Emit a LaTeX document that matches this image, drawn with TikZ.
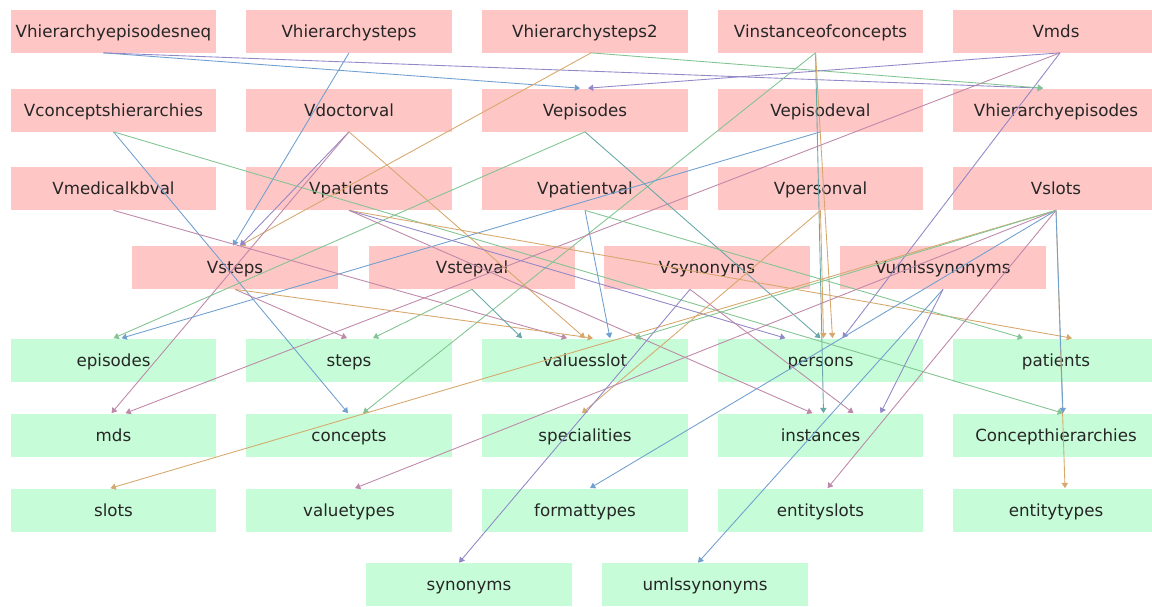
\documentclass[tikz,border=0pt]{standalone}
\usepackage{fontspec}
\setmainfont{DejaVu Sans}
\usetikzlibrary{arrows.meta}

\definecolor{viewpink}{RGB}{255,198,198}
\definecolor{tablegreen}{RGB}{198,253,216}
\definecolor{depPurple}{RGB}{146,136,200}
\definecolor{depGreen}{RGB}{130,196,146}
\definecolor{depOrange}{RGB}{214,168,110}
\definecolor{depBlue}{RGB}{112,160,208}
\definecolor{depMauve}{RGB}{190,136,168}
\definecolor{depTeal}{RGB}{104,168,168}

\begin{document}
\begin{tikzpicture}[x=0.02cm,y=-0.02cm,
        box/.style={rectangle,minimum width=4.12cm,minimum height=0.86cm,inner sep=1pt,
                    text height=6.9pt,text depth=0pt,
                    font=\fontsize{9.5}{11}\selectfont,text=black!85},
        view/.style={box,fill=viewpink},
        tbl/.style={box,fill=tablegreen},
        dep/.style={draw=#1,line width=0.5pt,-{Triangle[length=3pt,width=3.6pt]}}]
        \useasboundingbox (0,0) rectangle (1152,606);

        % views
        \node[view] (Vhierarchyepisodesneq) at (113.5,31) {Vhierarchyepisodesneq};
        \node[view] (Vhierarchysteps) at (349,31) {Vhierarchysteps};
        \node[view] (Vhierarchysteps2) at (585,31) {Vhierarchysteps2};
        \node[view] (Vinstanceofconcepts) at (820.5,31) {Vinstanceofconcepts};
        \node[view] (Vmds) at (1056,31) {Vmds};

        \node[view] (Vconceptshierarchies) at (113.5,110) {Vconceptshierarchies};
        \node[view] (Vdoctorval) at (349,110) {Vdoctorval};
        \node[view] (Vepisodes) at (585,110) {Vepisodes};
        \node[view] (Vepisodeval) at (820.5,110) {Vepisodeval};
        \node[view] (Vhierarchyepisodes) at (1056,110) {Vhierarchyepisodes};

        \node[view] (Vmedicalkbval) at (113.5,188.5) {Vmedicalkbval};
        \node[view] (Vpatients) at (349,188.5) {Vpatients};
        \node[view] (Vpatientval) at (585,188.5) {Vpatientval};
        \node[view] (Vpersonval) at (820.5,188.5) {Vpersonval};
        \node[view] (Vslots) at (1056,188.5) {Vslots};

        \node[view] (Vsteps) at (235,267.5) {Vsteps};
        \node[view] (Vstepval) at (472,267.5) {Vstepval};
        \node[view] (Vsynonyms) at (707,267.5) {Vsynonyms};
        \node[view] (Vumlssynonyms) at (943,267.5) {Vumlssynonyms};

        % tables
        \node[tbl] (episodes) at (113.5,360) {episodes};
        \node[tbl] (steps) at (349,360) {steps};
        \node[tbl] (valuesslot) at (585,360) {valuesslot};
        \node[tbl] (persons) at (820.5,360) {persons};
        \node[tbl] (patients) at (1056,360) {patients};

        \node[tbl] (mds) at (113.5,435) {mds};
        \node[tbl] (concepts) at (349,435) {concepts};
        \node[tbl] (specialities) at (585,435) {specialities};
        \node[tbl] (instances) at (820.5,435) {instances};
        \node[tbl] (Concepthierarchies) at (1056,435) {Concepthierarchies};

        \node[tbl] (slots) at (113.5,510) {slots};
        \node[tbl] (valuetypes) at (349,510) {valuetypes};
        \node[tbl] (formattypes) at (585,510) {formattypes};
        \node[tbl] (entityslots) at (820.5,510) {entityslots};
        \node[tbl] (entitytypes) at (1056,510) {entitytypes};

        \node[tbl] (synonyms) at (469,584.5) {synonyms};
        \node[tbl] (umlssynonyms) at (705,584.5) {umlssynonyms};

        % dependencies
        \draw[dep=depBlue] ([xshift=-2mm]Vhierarchyepisodesneq.south) -- ([xshift=-1mm]Vepisodes.north);
        \draw[dep=depPurple] ([xshift=-2mm]Vhierarchyepisodesneq.south) -- ([xshift=-2.6mm]Vhierarchyepisodes.north);
        \draw[dep=depGreen] ([xshift=1.2mm]Vhierarchysteps2.south) -- ([xshift=-2.6mm]Vhierarchyepisodes.north);
        \draw[dep=depPurple] ([xshift=0.8mm]Vmds.south) -- ([xshift=0.6mm]Vepisodes.north);
        \draw[dep=depBlue] (Vhierarchysteps.south) -- ([xshift=-0.4mm]Vsteps.north);
        \draw[dep=depOrange] ([xshift=1.2mm]Vhierarchysteps2.south) -- ([xshift=1mm]Vsteps.north);
        \draw[dep=depPurple] (Vdoctorval.south) -- ([xshift=1mm]Vsteps.north);

        \draw[dep=depTeal] ([xshift=-1mm]Vinstanceofconcepts.south) -- ([xshift=0.6mm]instances.north);
        \draw[dep=depOrange] ([xshift=-1mm]Vinstanceofconcepts.south) -- ([xshift=2.4mm]persons.north);
        \draw[dep=depGreen] ([xshift=-1mm]Vinstanceofconcepts.south) -- ([xshift=2.8mm]concepts.north);
        \draw[dep=depMauve] ([xshift=0.8mm]Vmds.south) -- ([xshift=2.4mm]mds.north);
        \draw[dep=depPurple] ([xshift=0.8mm]Vmds.south) -- ([xshift=4.4mm]persons.north);

        \draw[dep=depBlue] (Vconceptshierarchies.south) -- ([xshift=-0.2mm]concepts.north);
        \draw[dep=depGreen] (Vconceptshierarchies.south) -- ([xshift=1.4mm]Concepthierarchies.north);
        \draw[dep=depMauve] (Vdoctorval.south) -- ([xshift=-0.4mm]mds.north);
        \draw[dep=depOrange] (Vdoctorval.south) -- (valuesslot.north);
        \draw[dep=depGreen] (Vepisodes.south) -- (episodes.north);
        \draw[dep=depTeal] (Vepisodes.south) -- (persons.north);
        \draw[dep=depBlue] (Vepisodeval.south) -- ([xshift=1.6mm]episodes.north);

        \draw[dep=depMauve] (Vmedicalkbval.south) -- ([xshift=-3.6mm]valuesslot.north);
        \draw[dep=depOrange] (Vpatients.south) -- ([xshift=3.2mm]patients.north);
        \draw[dep=depPurple] (Vpatients.south) -- ([xshift=-7mm]persons.north);
        \draw[dep=depMauve] (Vpatients.south) -- ([xshift=-1.6mm]instances.north);
        \draw[dep=depBlue] (Vpatientval.south) -- ([xshift=5mm]valuesslot.north);
        \draw[dep=depGreen] (Vpatientval.south) -- ([xshift=-6.6mm]patients.north);
        \draw[dep=depOrange] (Vpersonval.south) -- ([xshift=0.6mm]persons.north);
        \draw[dep=depOrange] (Vpersonval.south) -- ([xshift=-0.6mm]specialities.north);

        \draw[dep=depOrange] (Vslots.south) -- ([xshift=-0.6mm]slots.north);
        \draw[dep=depMauve] (Vslots.south) -- ([xshift=1.2mm]valuetypes.north);
        \draw[dep=depBlue] (Vslots.south) -- ([xshift=1mm]formattypes.north);
        \draw[dep=depMauve] (Vslots.south) -- ([xshift=1.4mm]entityslots.north);
        \draw[dep=depOrange] (Vslots.south) -- ([xshift=1.8mm]entitytypes.north);
        \draw[dep=depBlue] (Vslots.south) -- ([xshift=1.4mm]Concepthierarchies.north);
        \draw[dep=depGreen] (Vslots.south) -- ([xshift=10mm]valuesslot.north);

        \draw[dep=depMauve] (Vsteps.south) -- ([xshift=-0.4mm]steps.north);
        \draw[dep=depOrange] (Vsteps.south) -- ([xshift=1.6mm]valuesslot.north);
        \draw[dep=depGreen] (Vstepval.south) -- ([xshift=4.8mm]steps.north);
        \draw[dep=depTeal] (Vstepval.south) -- ([xshift=-12.6mm]valuesslot.north);
        \draw[dep=depPurple] ([xshift=-3.4mm]Vsynonyms.south) -- ([xshift=-2mm]synonyms.north);
        \draw[dep=depMauve] ([xshift=-3.4mm]Vsynonyms.south) -- ([xshift=6.6mm]instances.north);
        \draw[dep=depBlue] (Vumlssynonyms.south) -- ([xshift=-1.4mm]umlssynonyms.north);
        \draw[dep=depPurple] (Vumlssynonyms.south) -- ([xshift=12mm]instances.north);
    \end{tikzpicture}
\end{document}
